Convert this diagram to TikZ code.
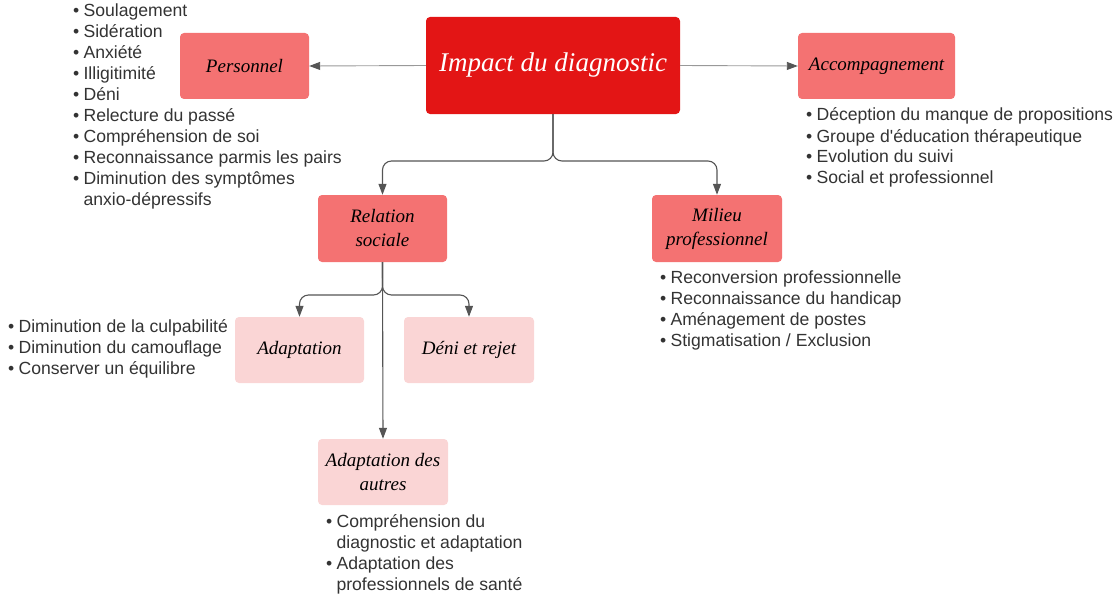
\documentclass[tikz,border=0pt]{standalone}
\usepackage{fontspec}
\setmainfont{Liberation Sans}
\newfontfamily\boxfont{Liberation Serif}
\usetikzlibrary{arrows.meta}
\definecolor{cmain}{HTML}{E31515}
\definecolor{cmid}{HTML}{F47272}
\definecolor{clight}{HTML}{FAD5D5}
\definecolor{ctxt}{HTML}{333333}
\definecolor{cline}{HTML}{555555}
\definecolor{cthin}{HTML}{999999}
\newcommand{\bl}{\textbullet}
\begin{document}
\begin{tikzpicture}[x=1pt,y=-1pt,
  box/.style={rounded corners=4pt, inner sep=0pt, align=center,
    font=\boxfont\itshape\fontsize{19}{24}\selectfont, text=black},
  midbox/.style={box, fill=cmid},
  lightbox/.style={box, fill=clight},
  lst/.style={inner sep=0pt, anchor=base west, text=ctxt,
    font=\fontsize{17.6}{21}\selectfont},
  conn/.style={draw=cline, line width=1.1pt, -{Triangle[length=11pt,width=8pt]}},
  thinconn/.style={draw=cthin, line width=0.9pt, -{Triangle[length=11pt,width=8pt,color=cline]}},
]
\path[use as bounding box] (0,0) rectangle (1117,594);

% boxes
\node[box, fill=cmain, text=white, minimum width=254pt, minimum height=97pt,
  font=\boxfont\itshape\fontsize{27}{32}\selectfont] (imp) at (553,65.5) {Impact du diagnostic};
\node[midbox, minimum width=129pt, minimum height=66pt] (pers) at (244.5,66) {Personnel};
\node[midbox, minimum width=157pt, minimum height=66pt] (acc) at (876.5,66) {Accompagnement};
\node[midbox, minimum width=129pt, minimum height=67pt] (rel) at (382.5,228.5) {Relation\\sociale};
\node[midbox, minimum width=130pt, minimum height=67pt] (mil) at (717,228.5) {Milieu\\professionnel};
\node[lightbox, minimum width=129pt, minimum height=66pt] (adap) at (299.5,350) {Adaptation};
\node[lightbox, minimum width=130pt, minimum height=66pt] (deni) at (469,350) {Déni et rejet};
\node[lightbox, minimum width=130pt, minimum height=66pt] (adaut) at (383,472) {Adaptation des\\autres};

% lists
\node[lst] (lpers) at (73,17) {\begin{tabular}[t]{@{}l@{\hspace{4.2pt}}l@{}}
\bl & Soulagement\\
\bl & Sidération\\
\bl & Anxiété\\
\bl & Illigitimité\\
\bl & Déni\\
\bl & Relecture du passé\\
\bl & Compréhension de soi\\
\bl & Reconnaissance parmis les pairs\\
\bl & Diminution des symptômes\\
    & anxio-dépressifs
\end{tabular}};
\node[lst] (lacc) at (806,121) {\begin{tabular}[t]{@{}l@{\hspace{4.2pt}}l@{}}
\bl & Déception du manque de propositions\\
\bl & Groupe d\textquotesingle éducation thérapeutique\\
\bl & Evolution du suivi\\
\bl & Social et professionnel
\end{tabular}};
\node[lst] (lmil) at (660,283) {\begin{tabular}[t]{@{}l@{\hspace{4.2pt}}l@{}}
\bl & Reconversion professionnelle\\
\bl & Reconnaissance du handicap\\
\bl & Aménagement de postes\\
\bl & Stigmatisation / Exclusion
\end{tabular}};
\node[lst] (ladap) at (8,332) {\begin{tabular}[t]{@{}l@{\hspace{4.2pt}}l@{}}
\bl & Diminution de la culpabilité\\
\bl & Diminution du camouflage\\
\bl & Conserver un équilibre
\end{tabular}};
\node[lst] (ladaut) at (326,527) {\begin{tabular}[t]{@{}l@{\hspace{4.2pt}}l@{}}
\bl & Compréhension du\\
    & diagnostic et adaptation\\
\bl & Adaptation des\\
    & professionnels de santé
\end{tabular}};

% connectors
\coordinate (j1) at (0,161);
\coordinate (j2) at (0,295);
\draw[thinconn] (imp.west) -- (pers.east);
\draw[thinconn] (imp.east) -- (acc.west);
\draw[conn, rounded corners=9pt] (imp.south) |- (rel.north |- j1) -- (rel.north);
\draw[conn, rounded corners=9pt] (imp.south) |- (mil.north |- j1) -- (mil.north);
\draw[conn, rounded corners=9pt] (rel.south) |- (adap.north |- j2) -- (adap.north);
\draw[conn, rounded corners=9pt] (rel.south) |- (deni.north |- j2) -- (deni.north);
\draw[conn] (rel.south) -- (adaut.north);
\end{tikzpicture}
\end{document}
